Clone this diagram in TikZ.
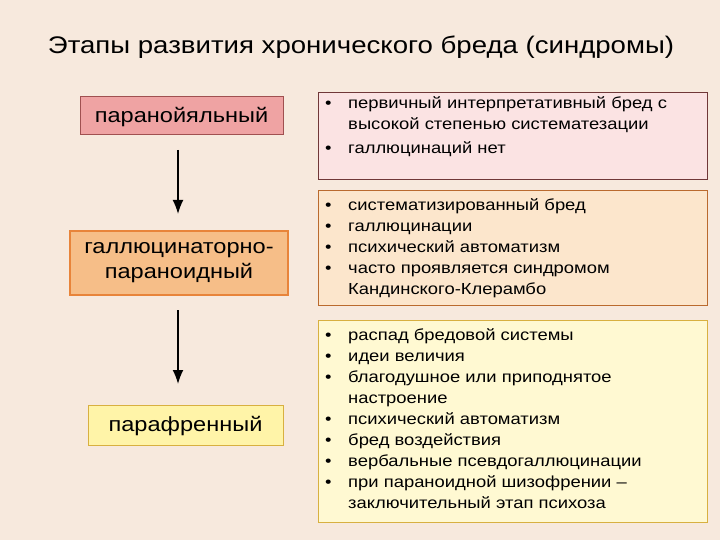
\documentclass[tikz,border=0pt]{standalone}
\usepackage{fontspec}
\setmainfont{Liberation Sans}
\usetikzlibrary{arrows.meta}
\definecolor{bg}{HTML}{F7E9DD}
\definecolor{pk}{HTML}{EFA3A3}
\definecolor{pkb}{HTML}{A05050}
\definecolor{lpk}{HTML}{FBE3E3}
\definecolor{or}{HTML}{F6BE88}
\definecolor{orb}{HTML}{E8843A}
\definecolor{lor}{HTML}{FCE6CC}
\definecolor{ye}{HTML}{FFF4A8}
\definecolor{yeb}{HTML}{D8B040}
\definecolor{lye}{HTML}{FFF9D2}
\tikzset{x=1pt,y=-1pt,
 lbox/.style={font=\fontsize{20.5}{25}\selectfont,align=center,inner sep=0pt,xscale=1.15},
 rtext/.style={font=\fontsize{16}{21}\selectfont,align=left,anchor=north west,inner sep=0pt,xscale=1.15},
 arr/.style={-{Latex[length=14pt,width=11pt]},line width=1.6pt}}
\begin{document}
\begin{tikzpicture}
\fill[bg] (0,0) rectangle (720,540);
\useasboundingbox (0,0) rectangle (720,540);
\node[font=\fontsize{24}{28}\selectfont,xscale=1.15] (title) at (361,47) {Этапы развития хронического бреда (синдромы)};
\draw[pkb,fill=pk,line width=1pt] (80,97) rectangle (283,135);
\node[lbox] (p1) at (181.5,117) {паранойяльный};
\draw[orb,fill=or,line width=2pt] (70,231) rectangle (288,295);
\node[lbox] (p2) at (179,263) {галлюцинаторно-\\параноидный};
\draw[yeb,fill=ye,line width=1pt] (88,405) rectangle (283,445);
\node[lbox] (p3) at (185.5,426) {парафренный};
\coordinate (a1s) at (178,150); \coordinate (a1e) at (178,214);
\coordinate (a2s) at (178,310); \coordinate (a2e) at (178,384);
\draw[arr] (a1s) -- (a1e);
\draw[arr] (a2s) -- (a2e);
\draw[pkb!70!black,fill=lpk,line width=0.8pt] (318,92) rectangle (707,179);
\draw[orb!80!black,fill=lor,line width=0.8pt] (318,190) rectangle (707,305);
\draw[yeb,fill=lye,line width=0.8pt] (318,320) rectangle (707,522);
\node[rtext] (r1) at (325,94) {\begin{tabular}{@{}p{20pt}@{}l@{}}
•&первичный интерпретативный бред с\\
 &высокой степенью систематезации\\[3pt]
•& галлюцинаций нет\end{tabular}};
\node[rtext] (r2) at (325,196) {\begin{tabular}{@{}p{20pt}@{}l@{}}
•&систематизированный бред\\
•& галлюцинации\\
•&психический автоматизм\\
•&часто проявляется синдромом\\
 &Кандинского-Клерамбо\end{tabular}};
\node[rtext] (r3) at (325,326) {\begin{tabular}{@{}p{20pt}@{}l@{}}
•&распад бредовой системы\\
•&идеи величия\\
•&благодушное или приподнятое\\
 &настроение\\
•&психический автоматизм\\
•&бред воздействия\\
•&вербальные псевдогаллюцинации\\
•&при параноидной шизофрении –\\
 &заключительный этап психоза\end{tabular}};
\end{tikzpicture}
\end{document}
